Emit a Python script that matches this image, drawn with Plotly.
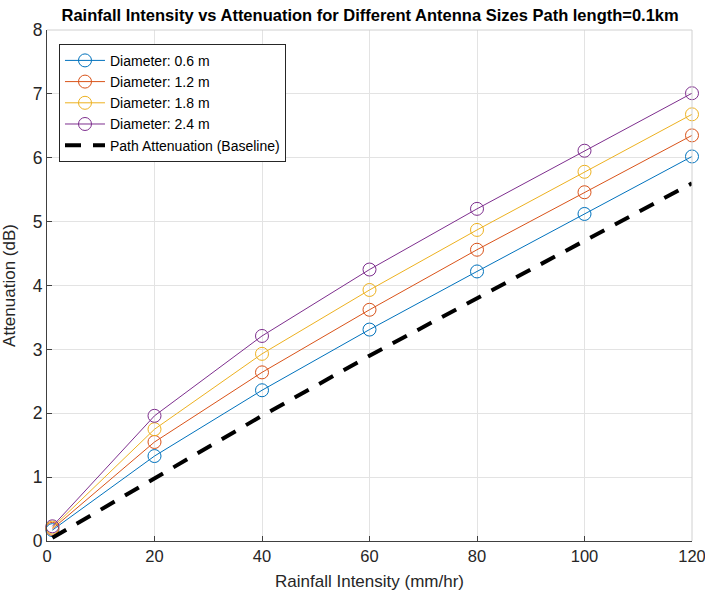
import plotly.graph_objects as go

rain = [1, 20, 40, 60, 80, 100, 120]
att_06 = [0.17, 1.33, 2.36, 3.31, 4.22, 5.12, 6.02]
att_12 = [0.19, 1.55, 2.64, 3.62, 4.56, 5.46, 6.35]
att_18 = [0.21, 1.75, 2.93, 3.93, 4.87, 5.78, 6.68]
att_24 = [0.23, 1.96, 3.21, 4.25, 5.20, 6.11, 7.01]
baseline = [0.05, 0.98, 1.96, 2.90, 3.80, 4.70, 5.60]

names = ["Diameter: 0.6 m", "Diameter: 1.2 m", "Diameter: 1.8 m", "Diameter: 2.4 m"]
colors = ["#0072BD", "#D95319", "#EDB120", "#7E2F8E"]
series = [att_06, att_12, att_18, att_24]

fig = go.Figure()
for n, c, s in zip(names, colors, series):
    fig.add_trace(go.Scatter(
        x=rain, y=s, name=n, mode="lines+markers", cliponaxis=False,
        line=dict(color=c, width=1),
        marker=dict(symbol="circle-open", size=13, color=c, line=dict(width=1, color=c)),
    ))
fig.add_trace(go.Scatter(
    x=rain, y=baseline, name="Path Attenuation (Baseline)", mode="lines",
    line=dict(color="black", width=4, dash="16px,12px"),
))

font_main = "Liberation Sans, Arial, sans-serif"
fig.update_layout(
    width=705, height=604,
    margin=dict(l=47, r=13, t=30, b=63, autoexpand=False),
    paper_bgcolor="white", plot_bgcolor="white",
    title=dict(text="<b>Rainfall Intensity vs Attenuation for Different Antenna Sizes Path length=0.1km</b>",
               xref="container", x=0.525, xanchor="center", y=0.975, yanchor="middle", automargin=False,
               font=dict(family=font_main, size=16.5, color="black")),
    font=dict(family=font_main, color="#262626"),
    legend=dict(x=0.0186, y=0.973, xanchor="left", yanchor="top",
                bgcolor="white", bordercolor="#262626", borderwidth=1,
                font=dict(family=font_main, size=14, color="black"),
                tracegroupgap=0, itemwidth=40),
    showlegend=True,
)
fig.update_xaxes(
    range=[0, 120], tickvals=[0, 20, 40, 60, 80, 100, 120], automargin=False,
    ticklabeloverflow="allow",
    showgrid=True, gridcolor="#e3e3e3", gridwidth=1, zeroline=False,
    showline=True, linecolor="#404040", linewidth=1, mirror=False,
    ticks="inside", ticklen=5, tickcolor="#404040",
    tickfont=dict(family=font_main, size=16.5, color="#262626"),
    title=dict(text="Rainfall Intensity (mm/hr)", font=dict(size=17, color="#262626"), standoff=11),
)
fig.update_yaxes(
    range=[0, 8], tickvals=[0, 1, 2, 3, 4, 5, 6, 7, 8], automargin=False,
    ticklabeloverflow="allow",
    showgrid=True, gridcolor="#e3e3e3", gridwidth=1, zeroline=False,
    showline=True, linecolor="#404040", linewidth=1, mirror=False,
    ticks="inside", ticklen=5, tickcolor="#404040",
    tickfont=dict(family=font_main, size=17.5, color="#262626"),
    title=dict(text="Attenuation (dB)", font=dict(size=17, color="#262626"), standoff=12),
)
fig.add_shape(type="line", xref="paper", yref="paper", x0=0, x1=1, y0=1, y1=1,
              line=dict(color="#d0d0d0", width=1))
fig.add_shape(type="line", xref="paper", yref="paper", x0=1, x1=1, y0=0, y1=1,
              line=dict(color="#d0d0d0", width=1))
fig.write_html("out.html", config={"displayModeBar": False},
               post_script="document.body.style.margin='0';document.body.style.padding='0';")
